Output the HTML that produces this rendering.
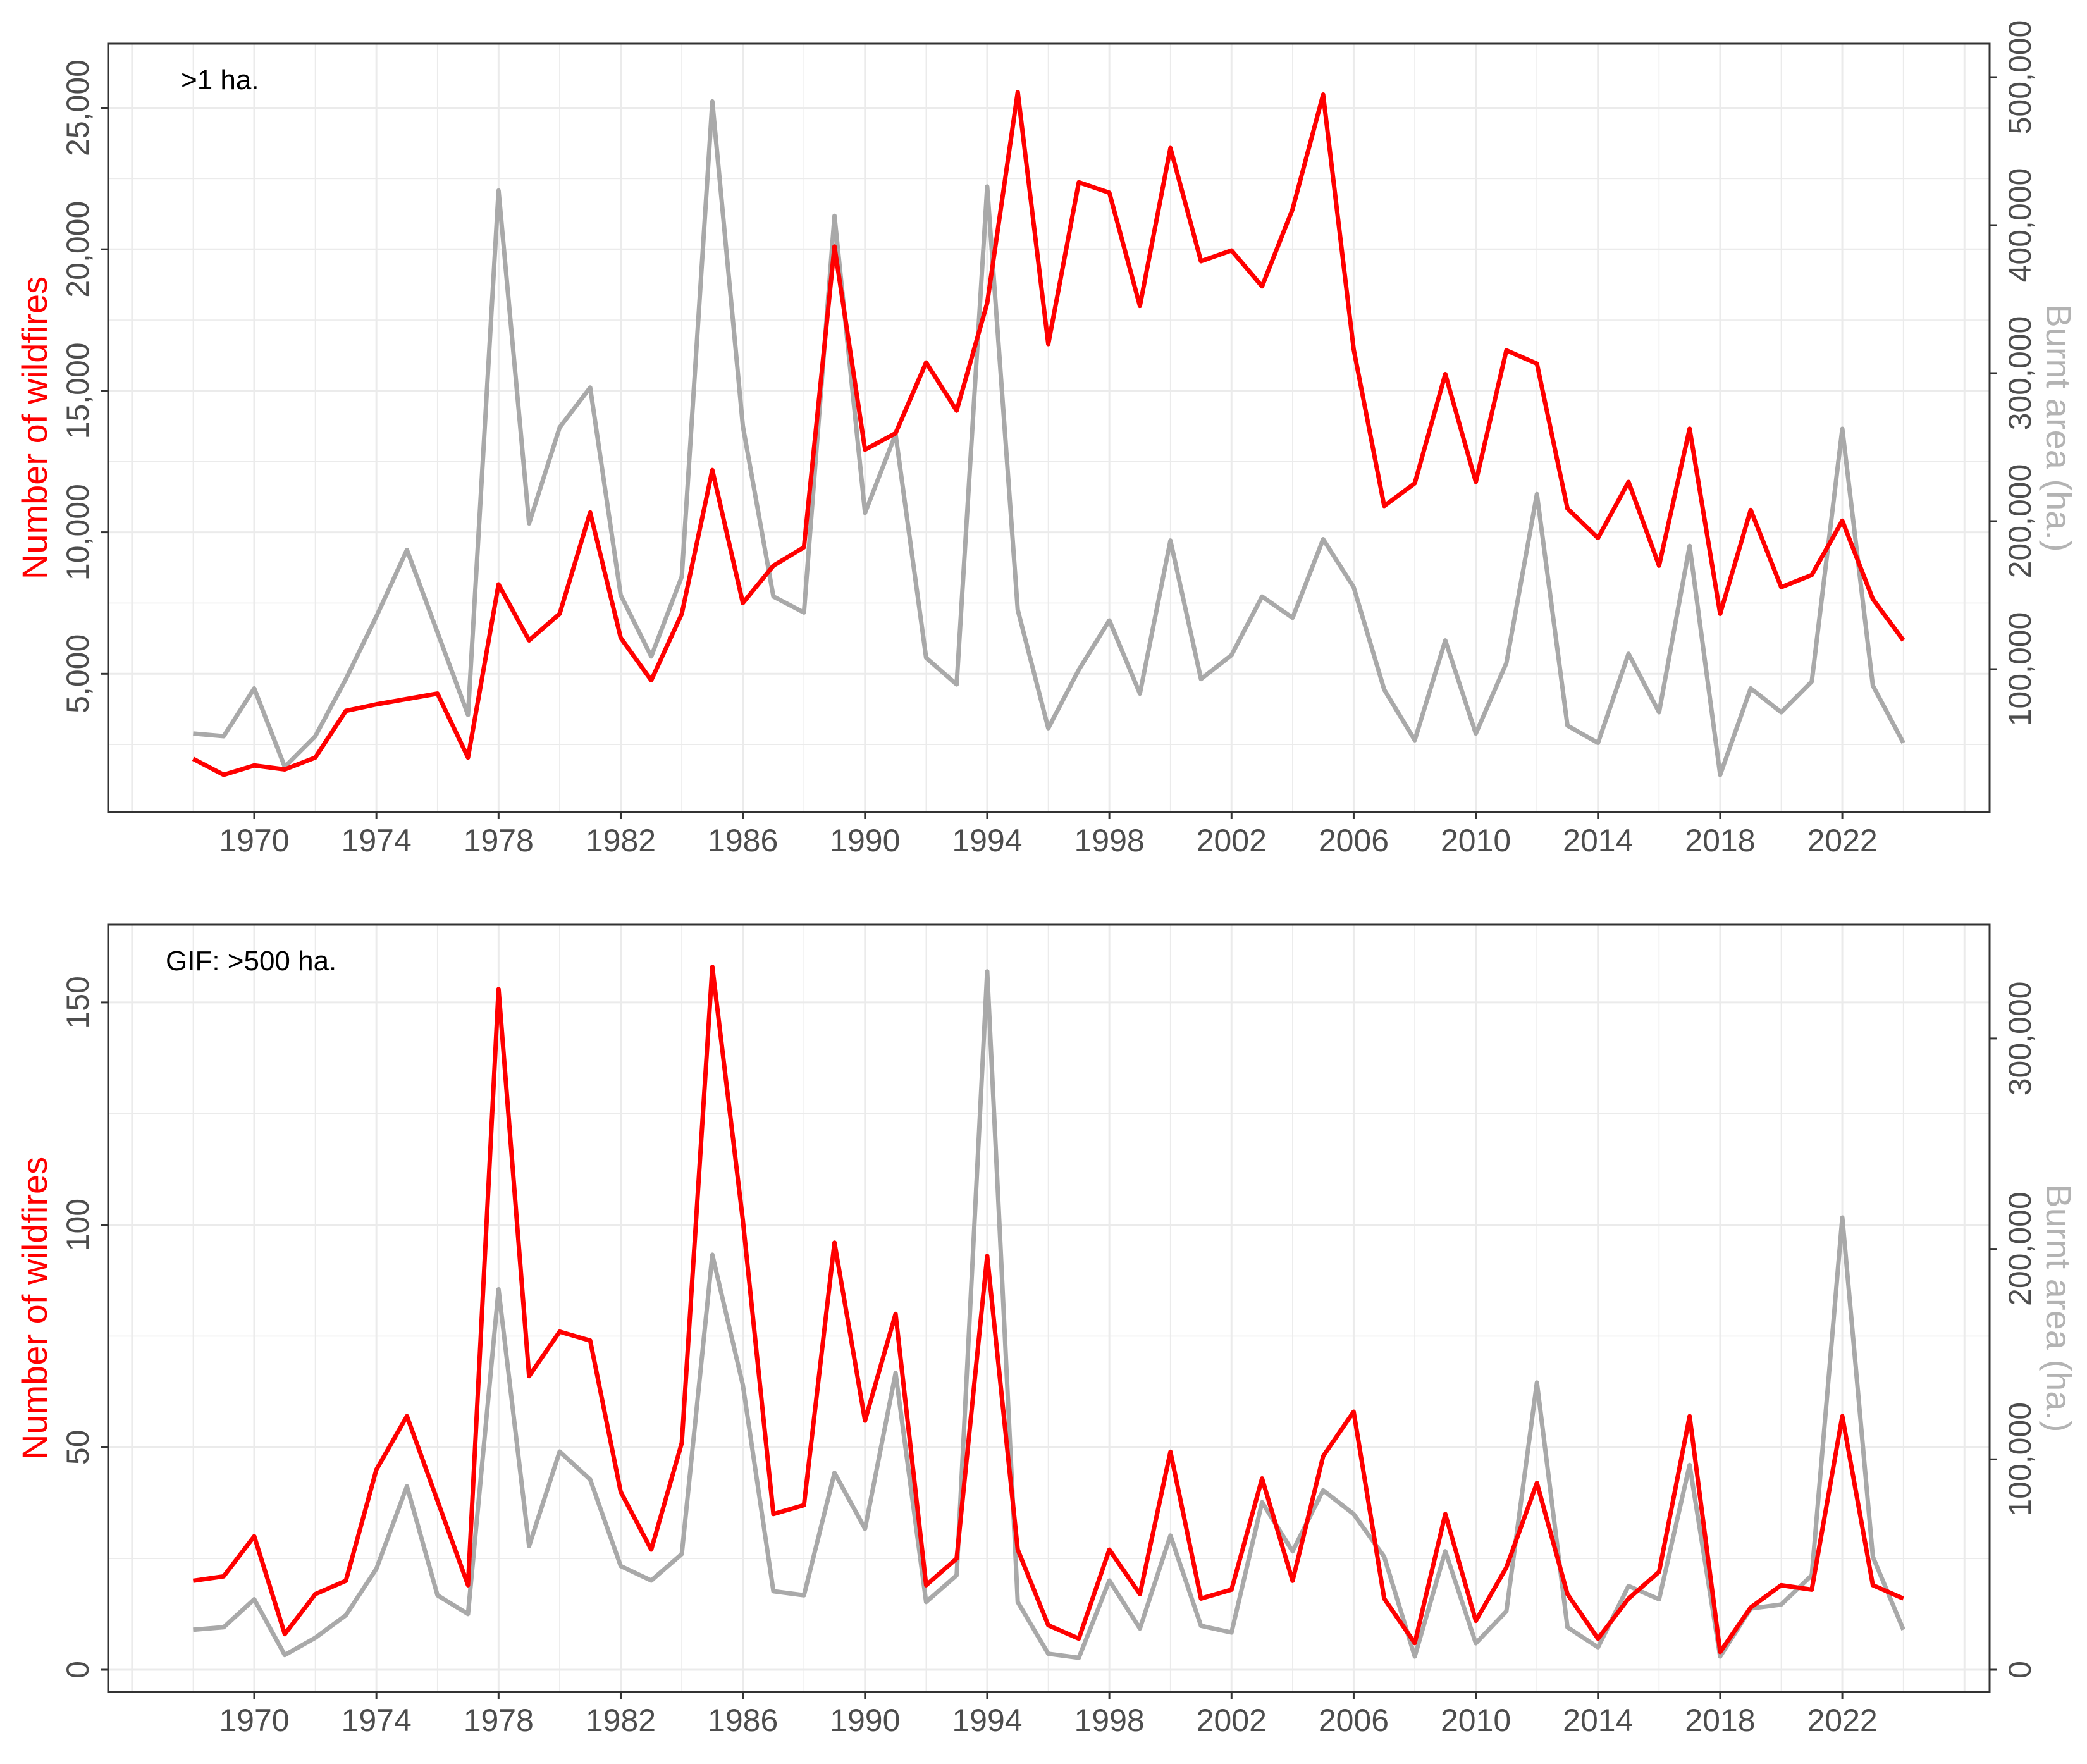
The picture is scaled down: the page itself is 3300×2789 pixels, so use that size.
<!DOCTYPE html>
<html><head><meta charset="utf-8"><style>
html,body{margin:0;padding:0;background:#fff}
svg{display:block}
text{font-family:"Liberation Sans",Arial,sans-serif}
</style></head><body>
<svg id="chart" xmlns="http://www.w3.org/2000/svg" width="3300" height="2789" viewBox="0 0 3300 2789"></svg>
<script>
const years = [];
for (let y = 1968; y <= 2024; y++) years.push(y);
const topFires = [1995,1430,1760,1620,2040,3690,3920,4110,4300,2040,8160,6180,7120,10700,6270,4770,7120,12200,7500,8820,9470,20100,12920,13500,16000,14300,18100,25560,16650,22370,22000,18000,23580,19580,19960,18690,21420,25470,16470,10930,11730,15590,11780,16430,15960,10840,9800,11780,8820,13660,7120,10790,8060,8490,10410,7640,6180];
const topArea = [56500,54700,87000,34000,54700,93300,135600,180600,124800,69100,423400,198500,263300,290300,150000,108600,162600,483600,264200,149100,138300,406300,205600,258800,107700,89700,426100,140100,60100,99600,132900,83500,186900,93300,109500,149100,134700,187800,155400,86200,52000,119400,56500,104100,218300,61900,50200,110400,70900,183300,28600,87000,70900,91600,262400,88900,50200];
const botFires = [20,21,30,8,17,20,45,57,38,19,153,66,76,74,40,27,51,158,101,35,37,96,56,80,19,25,93,27,10,7,27,17,49,16,18,43,20,48,58,16,6,35,11,23,42,17,7,16,22,57,4,14,19,18,57,19,16];
const botArea = [19000,20200,33500,7000,15200,25900,48000,87200,35400,26500,180800,58800,103700,90400,49300,42400,55000,197200,135300,37300,35400,93600,67000,141000,32200,44900,331900,32200,7600,5700,42400,19600,63800,20900,17700,79600,56300,85300,74000,53700,6300,56300,12600,27800,136500,20200,10700,39800,33500,97300,6300,29100,31000,44900,214900,53700,19000];
const xTicks = [1970,1974,1978,1982,1986,1990,1994,1998,2002,2006,2010,2014,2018,2022];
const topLeftTicks = [5000,10000,15000,20000,25000];
const topRightTicks = [100000,200000,300000,400000,500000];
const botLeftTicks = [0,50,100,150];
const botRightTicks = [0,100000,200000,300000];

const NS = "http://www.w3.org/2000/svg";
const svg = document.getElementById('chart');
function mk(tag, attrs, parent) {
  const e = document.createElementNS(NS, tag);
  for (const k in attrs) e.setAttribute(k, attrs[k]);
  (parent || svg).appendChild(e);
  return e;
}
const fmt = v => v.toLocaleString('en-US');
const xScale = yr => 402 + (yr - 1970) * 48.29;

function panel(cfg) {
  const g = mk('g', {});
  
  
  const L = 171, R = 3146, T = cfg.top, B = cfg.bottom;
  const yL = v => cfg.l0 - v * cfg.lpx;
  const yR = v => cfg.r0 - v * cfg.rpx;
  for (let yr = 1966; yr <= 2026; yr += 2) {
    const major = (yr - 1970) % 4 === 0;
    const ln = mk('line', {x1: xScale(yr), x2: xScale(yr), y1: T, y2: B, stroke: '#ebebeb', 'stroke-width': major ? 3 : 1.6}, g);
    
    
  }
  const step = cfg.lstep;
  for (let v = step / 2; yL(v) > T; v += step / 2) {
    if (yL(v) > B) continue;
    const major = Math.abs((v / step) - Math.round(v / step)) < 1e-6;
    const ln = mk('line', {x1: L, x2: R, y1: yL(v), y2: yL(v), stroke: '#ebebeb', 'stroke-width': major ? 3 : 1.6}, g);
    
    
  }
  if (cfg.zeroGrid) {
    const ln = mk('line', {x1: L, x2: R, y1: yL(0), y2: yL(0), stroke: '#ebebeb', 'stroke-width': 3}, g);
    
    
  }
  const grey = mk('polyline', {points: years.map((yr, i) => xScale(yr) + ',' + yR(cfg.area[i])).join(' '), fill: 'none', stroke: '#a9a9a9', 'stroke-width': 7, 'stroke-linejoin': 'round'}, g);
  
  
  const red = mk('polyline', {points: years.map((yr, i) => xScale(yr) + ',' + yL(cfg.fires[i])).join(' '), fill: 'none', stroke: '#ff0000', 'stroke-width': 7, 'stroke-linejoin': 'round'}, g);
  
  
  const bd = mk('rect', {x: L, y: T, width: R - L, height: B - T, fill: 'none', stroke: '#333', 'stroke-width': 3}, g);
  
  
  xTicks.forEach(yr => {
    mk('line', {x1: xScale(yr), x2: xScale(yr), y1: B, y2: B + 11, stroke: '#333', 'stroke-width': 3}, g);
    const t = mk('text', {x: xScale(yr), y: B + 62, 'text-anchor': 'middle', 'font-size': 50, fill: '#4d4d4d'}, g);
    t.textContent = yr;
    
    
  });
  cfg.lticks.forEach(v => {
    const y = yL(v);
    mk('line', {x1: L - 11, x2: L, y1: y, y2: y, stroke: '#333', 'stroke-width': 3}, g);
    const t = mk('text', {x: 140, y: y, 'text-anchor': 'middle', 'font-size': 50, fill: '#4d4d4d', transform: 'rotate(-90 140 ' + y + ')'}, g);
    t.textContent = fmt(v);
    
    
  });
  cfg.rticks.forEach(v => {
    const y = yR(v);
    mk('line', {x1: R, x2: R + 11, y1: y, y2: y, stroke: '#333', 'stroke-width': 3}, g);
    const t = mk('text', {x: 3211, y: y, 'text-anchor': 'middle', 'font-size': 50, fill: '#4d4d4d', transform: 'rotate(-90 3211 ' + y + ')'}, g);
    t.textContent = fmt(v);
    
    
  });
  const cy = (T + B) / 2;
  const lt = mk('text', {x: 74, y: cy, 'text-anchor': 'middle', 'font-size': 56, fill: '#ff0000', transform: 'rotate(-90 74 ' + cy + ')'}, g);
  lt.textContent = 'Number of wildfires';
  
  
  const rt = mk('text', {x: 3236, y: cy, 'text-anchor': 'middle', 'font-size': 56, fill: '#b3b3b3', transform: 'rotate(90 3236 ' + cy + ')'}, g);
  rt.textContent = 'Burnt area (ha.)';
  
  
  const an = mk('text', {x: cfg.labelX, y: T + 72, 'font-size': 44, fill: '#000'}, g);
  an.textContent = cfg.label;
  
  
}

panel({name: 'top-panel', top: 69, bottom: 1284, l0: 1289, lpx: 223.7 / 5000, r0: 1292, rpx: 234 / 100000,
  lstep: 5000, lticks: topLeftTicks, rticks: topRightTicks, fires: topFires, area: topArea, label: '>1 ha.', labelX: 286, zeroGrid: false});
panel({name: 'bottom-panel', top: 1462, bottom: 2675, l0: 2640, lpx: 351.7 / 50, r0: 2640, rpx: 332.7 / 100000,
  lstep: 50, lticks: botLeftTicks, rticks: botRightTicks, fires: botFires, area: botArea, label: 'GIF: >500 ha.', labelX: 262, zeroGrid: true});
</script>
</body></html>
